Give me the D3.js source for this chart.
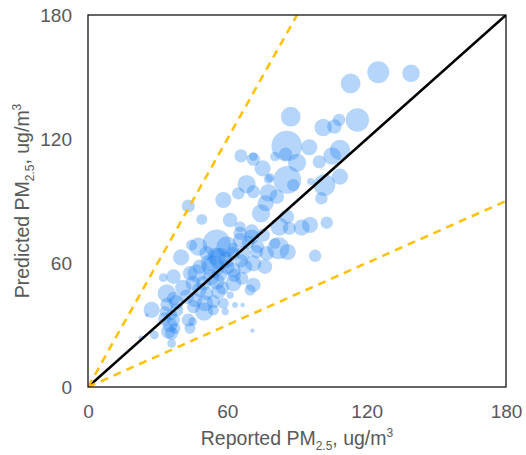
<!DOCTYPE html>
<html>
<head>
<meta charset="utf-8">
<script src="https://cdn.jsdelivr.net/npm/d3@7"></script>
<style>
  body { margin: 0; background: #fff; }
  text { font-family: "Liberation Sans", Arial, sans-serif; fill: #595959; }
</style>
</head>
<body>
<script>
const margin = {top: 15, right: 20, bottom: 68, left: 88};
const width = 526;
const height = 455;

// Reported values (x), predicted values (y), bubble size
const reported = [125.0, 139.1, 113.1, 87.3, 116.0, 101.3, 106.1, 108.1, 85.6, 95.3,
    108.5, 105.1, 99.6, 90.0, 85.1, 80.5, 65.9, 71.2, 71.2, 75.2,
    108.5, 85.8, 88.4, 95.9, 101.8, 68.3, 77.7, 64.7, 71.2, 77.7,
    81.3, 100.5, 58.3, 43.2, 76.5, 74.5, 49.0, 61.2, 65.5, 85.6,
    82.4, 86.7, 92.0, 95.6, 102.8, 70.5, 75.5, 97.8, 86.0, 82.0,
    40.1, 44.6, 47.5, 55.4, 59.7, 65.5, 70.5, 66.9, 72.6, 76.9,
    80.5, 55.4, 51.1, 59.7, 62.6, 48.2, 46.8, 54.0, 56.8, 62.6,
    67.6, 71.2, 76.2, 36.8, 32.4, 45.1, 49.7, 55.4, 62.6, 66.2,
    71.2, 69.8, 33.9, 36.8, 42.5, 46.1, 50.4, 54.0, 58.3, 61.2,
    63.3, 66.6, 27.4, 33.2, 38.2, 45.4, 50.0, 54.0, 59.1, 36.8,
    43.2, 45.1, 35.3, 37.5, 34.6, 36.0, 43.9, 28.6, 25.3, 22.7,
    36.0, 70.8, 78.4, 65.5, 62.6, 51.1, 56.2,
    57.0, 52.0, 60.0, 66.0, 53.0, 48.0, 58.0, 63.0, 41.0, 44.0,
    69.0, 73.0, 33.0, 36.0, 34.0, 38.0];
const predicted = [152.3, 151.8, 146.9, 130.8, 129.2, 125.6, 126.0, 129.2, 116.6, 116.0,
    114.7, 111.8, 109.0, 108.5, 112.7, 111.5, 111.8, 111.5, 110.2, 105.8,
    101.8, 100.2, 97.7, 99.4, 97.7, 98.2, 100.6, 93.7, 94.5, 94.0,
    92.1, 91.3, 90.5, 87.6, 88.9, 84.0, 81.1, 80.8, 77.6, 82.4,
    77.6, 76.8, 77.1, 78.4, 79.5, 75.2, 73.5, 63.5, 65.3, 67.1,
    62.7, 68.7, 67.9, 69.5, 67.9, 71.1, 72.7, 64.7, 65.5, 64.7,
    69.5, 63.1, 64.7, 61.5, 64.7, 58.2, 55.0, 58.2, 55.0, 56.6,
    58.2, 59.8, 58.2, 53.4, 52.9, 50.2, 50.2, 51.0, 50.2, 52.6,
    49.4, 46.9, 45.3, 42.9, 43.7, 42.1, 40.5, 41.3, 40.5, 44.5,
    39.7, 39.7, 37.3, 36.5, 37.3, 38.9, 36.5, 37.3, 36.5, 32.4,
    32.4, 31.6, 30.0, 28.4, 26.8, 26.0, 28.4, 25.2, 34.8, 23.9,
    21.1, 27.3, 101.3, 74.4, 67.1, 45.3, 46.1,
    62.0, 60.0, 58.0, 61.0, 53.0, 47.0, 48.0, 54.0, 48.0, 55.0,
    70.0, 68.0, 33.0, 35.0, 40.0, 41.0];
const size = [100, 64, 81, 81, 114, 64, 44, 32, 196, 54,
    87, 64, 36, 69, 36, 19, 36, 16, 36, 54,
    54, 160, 32, 11, 100, 69, 19, 32, 36, 64,
    44, 32, 54, 36, 54, 69, 25, 44, 25, 44,
    69, 36, 54, 54, 32, 44, 36, 32, 54, 100,
    54, 25, 69, 160, 87, 44, 44, 44, 36, 44,
    25, 69, 44, 54, 36, 44, 69, 100, 54, 44,
    44, 54, 44, 44, 16, 44, 44, 54, 54, 36,
    44, 25, 69, 36, 44, 44, 54, 36, 25, 11,
    7, 4, 54, 25, 36, 36, 69, 25, 11, 36,
    36, 16, 44, 25, 44, 36, 25, 16, 3, 4,
    16, 4, 16, 36, 25, 36, 44,
    100, 54, 44, 36, 54, 44, 36, 36, 54, 44,
    36, 36, 36, 25, 36, 44];

const ticks = [0, 60, 120, 180];
// Reference lines: slope 1 (solid) and 2, 0.5 (dashed)
const refSlopes = [1, 2, 0.5];

const points = reported.map((d, i) => ({x: d, y: predicted[i], s: size[i]}));

const x = d3.scaleLinear([0, 180], [margin.left, width - margin.right]);
const y = d3.scaleLinear([0, 180], [height - margin.bottom, margin.top]);
const r = d3.scaleSqrt([0, 200], [0, 15.5]);

const svg = d3.select("body").append("svg")
    .attr("width", width)
    .attr("height", height);

svg.append("defs").append("clipPath").attr("id", "plot")
    .append("rect")
    .attr("x", x(0)).attr("y", y(180))
    .attr("width", x(180) - x(0)).attr("height", y(0) - y(180));

// bubbles
svg.append("g")
    .attr("clip-path", "url(#plot)")
    .selectAll("circle")
    .data(points)
    .join("circle")
    .attr("cx", d => x(d.x))
    .attr("cy", d => y(d.y))
    .attr("r", d => r(d.s))
    .attr("fill", "#1f7fef")
    .attr("fill-opacity", 0.33);

// reference lines
const lines = svg.append("g").attr("clip-path", "url(#plot)");
refSlopes.forEach(k => {
    const xEnd = Math.min(180, 180 / k);
    lines.append("line")
        .attr("x1", x(0)).attr("y1", y(0))
        .attr("x2", x(xEnd)).attr("y2", y(xEnd * k))
        .attr("stroke", k === 1 ? "#000" : "#ffc000")
        .attr("stroke-width", 2.5)
        .attr("stroke-dasharray", k === 1 ? null : "8,6");
});

// frame
svg.append("rect")
    .attr("x", x(0)).attr("y", y(180))
    .attr("width", x(180) - x(0)).attr("height", y(0) - y(180))
    .attr("fill", "none")
    .attr("stroke", "#000")
    .attr("stroke-width", 1.2);

// axes
const xAxis = svg.append("g")
    .attr("transform", `translate(0,${y(0)})`)
    .call(d3.axisBottom(x).tickValues(ticks).tickSize(0).tickPadding(18));
const yAxis = svg.append("g")
    .attr("transform", `translate(${x(0)},0)`)
    .call(d3.axisLeft(y).tickValues(ticks).tickSize(0).tickPadding(16));
[xAxis, yAxis].forEach(g => {
    g.select(".domain").remove();
    g.selectAll("text")
        .attr("fill", "#595959")
        .style("font-size", "19px")
        .style("font-family", "'Liberation Sans', Arial, sans-serif");
});

function title(t, main) {
    t.style("font-size", "19.5px");
    t.append("tspan").text(main + " PM");
    t.append("tspan").text("2.5").style("font-size", "12px").attr("dy", 5);
    t.append("tspan").text(", ug/m").attr("dy", -5);
    t.append("tspan").text("3").style("font-size", "12px").attr("dy", -8);
}

svg.append("text")
    .attr("x", (x(0) + x(180)) / 2)
    .attr("y", 445)
    .attr("text-anchor", "middle")
    .call(title, "Reported");

svg.append("text")
    .attr("transform", `translate(29,${(y(0) + y(180)) / 2}) rotate(-90)`)
    .attr("text-anchor", "middle")
    .call(title, "Predicted");
</script>
</body>
</html>
